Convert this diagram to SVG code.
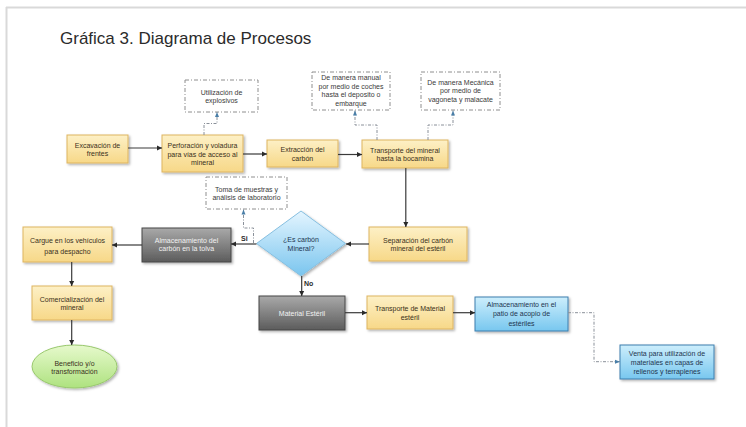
<svg xmlns="http://www.w3.org/2000/svg" width="746" height="427" viewBox="0 0 746 427">
<defs>
<linearGradient id="gY" x1="0" y1="0" x2="0" y2="1"><stop offset="0" stop-color="#fdf0c6"/><stop offset="1" stop-color="#f7d888"/></linearGradient>
<linearGradient id="gG" x1="0" y1="0" x2="0" y2="1"><stop offset="0" stop-color="#a9a9a9"/><stop offset="1" stop-color="#5c5c5c"/></linearGradient>
<linearGradient id="gB" x1="0" y1="0" x2="0" y2="1"><stop offset="0" stop-color="#cdeefc"/><stop offset="1" stop-color="#78c7ef"/></linearGradient>
<linearGradient id="gD" x1="0" y1="0" x2="0" y2="1"><stop offset="0" stop-color="#e4f5ff"/><stop offset="1" stop-color="#7ac5ee"/></linearGradient>
<linearGradient id="gE" x1="0" y1="0" x2="0" y2="1"><stop offset="0" stop-color="#e6f9cc"/><stop offset="1" stop-color="#aee27f"/></linearGradient>
<filter id="sh" x="-10%" y="-10%" width="130%" height="140%"><feDropShadow dx="1.5" dy="1.5" stdDeviation="1" flood-color="#000" flood-opacity="0.3"/></filter>
<marker id="ar" markerUnits="userSpaceOnUse" markerWidth="6" markerHeight="6" refX="5" refY="3" orient="auto"><path d="M0,0.5 L5,3 L0,5.5 Z" fill="#2a2a2a"/></marker>
<marker id="ad" markerUnits="userSpaceOnUse" markerWidth="6" markerHeight="6" refX="5" refY="3" orient="auto"><path d="M0,1 L5,3 L0,5 Z" fill="#4a7fa8"/></marker>
<style>
text{font-family:"Liberation Sans",Arial,sans-serif;font-size:7px;text-anchor:middle;dominant-baseline:central;}
.title{font-size:17px;text-anchor:start;dominant-baseline:auto;fill:#2b2b2b;}
.y{fill:url(#gY);stroke:#deb560;stroke-width:1;filter:url(#sh);}
.g{fill:url(#gG);stroke:#474747;stroke-width:1;filter:url(#sh);}
.b{fill:url(#gB);stroke:#3d7fae;stroke-width:1;filter:url(#sh);}
.d{fill:url(#gD);stroke:#86bfe0;stroke-width:1;filter:url(#sh);}
.e{fill:url(#gE);stroke:#98c86c;stroke-width:1;filter:url(#sh);}
.n{fill:#fff;stroke:#8e8e8e;stroke-width:1;stroke-dasharray:4 2 1 2;}
.ty{fill:#3a3020;}
.tg{fill:#f2f2f2;}
.tb{fill:#1d3550;}
.tn{fill:#3a3a3a;}
.lbl{font-weight:bold;fill:#2a2a2a;text-anchor:start;}
.c{fill:none;stroke:#3a3a3a;stroke-width:1.2;marker-end:url(#ar);}
.cd{fill:none;stroke:#8a9099;stroke-width:1;stroke-dasharray:3 1.5 1 1.5;marker-end:url(#ad);}
</style>
</defs>
<rect x="0" y="0" width="746" height="427" fill="#fff"/>
<path d="M6,7.5 H746 M6.5,7 V427" stroke="#d9d9d9" stroke-width="2" fill="none"/>
<text class="title" x="60" y="44">Gráfica 3. Diagrama de Procesos</text>

<g id="n-excavacion"><rect class="y" x="67" y="135" width="61" height="28"/>
<text class="ty"><tspan x="97.5" y="144.8">Excavación de</tspan><tspan x="97.5" y="153.3">frentes</tspan></text></g>
<g id="n-perforacion"><rect class="y" x="162" y="135" width="81" height="37"/>
<text class="ty"><tspan x="202.5" y="145">Perforación y voladura</tspan><tspan x="202.5" y="153.5">para vías de acceso  al</tspan><tspan x="202.5" y="162">mineral</tspan></text></g>
<g id="n-extraccion"><rect class="y" x="267" y="140" width="71" height="27"/>
<text class="ty"><tspan x="302.5" y="149.3">Extracción del</tspan><tspan x="302.5" y="157.8">carbón</tspan></text></g>
<g id="n-transporte"><rect class="y" x="362" y="140" width="86" height="28"/>
<text class="ty"><tspan x="405" y="149.8">Transporte del mineral</tspan><tspan x="405" y="158.3">hasta la bocamina</tspan></text></g>
<g id="n-explosivos"><rect class="n" x="185" y="80" width="73" height="32"/>
<text class="tn"><tspan x="221.5" y="91.8">Utilización de</tspan><tspan x="221.5" y="100.3">explosivos</tspan></text></g>
<g id="n-manual"><rect class="n" x="312" y="72" width="78" height="38"/>
<text class="tn"><tspan x="351" y="77">De manera manual</tspan><tspan x="351" y="85.7">por medio de coches</tspan><tspan x="351" y="94.3">hasta el deposito o</tspan><tspan x="351" y="102.8">embarque</tspan></text></g>
<g id="n-mecanica"><rect class="n" x="421" y="72" width="79" height="38"/>
<text class="tn"><tspan x="460.5" y="81.8">De manera Mecánica</tspan><tspan x="460.5" y="90.2">por medio de</tspan><tspan x="460.5" y="98.5">vagoneta y malacate</tspan></text></g>
<g id="n-muestras"><rect class="n" x="206" y="177" width="81" height="32"/>
<text class="tn"><tspan x="246.5" y="188.5">Toma de muestras y</tspan><tspan x="246.5" y="196.8">análisis de laboratorio</tspan></text></g>
<g id="n-decision"><path class="d" d="M301,211 L345.5,243.5 L301,276 L256.5,243.5 Z"/>
<text class="tb"><tspan x="301" y="239">¿Es carbón</tspan><tspan x="301" y="248">Mineral?</tspan></text></g>
<g id="n-separacion"><rect class="y" x="369" y="227" width="98" height="34"/>
<text class="ty"><tspan x="418" y="239.8">Separación del carbón</tspan><tspan x="418" y="248.3">mineral del estéril</tspan></text></g>
<g id="n-tolva"><rect class="g" x="142" y="228" width="89" height="34"/>
<text class="tg"><tspan x="186.5" y="239.5">Almacenamiento del</tspan><tspan x="186.5" y="248">carbón en la tolva</tspan></text></g>
<g id="n-cargue"><rect class="y" x="23" y="227" width="89" height="35"/>
<text class="ty"><tspan x="67.5" y="240">Cargue en los vehículos</tspan><tspan x="67.5" y="250.5">para despacho</tspan></text></g>
<g id="n-comercializacion"><rect class="y" x="32" y="286" width="80" height="34"/>
<text class="ty"><tspan x="72" y="298.6">Comercialización del</tspan><tspan x="72" y="307.2">mineral</tspan></text></g>
<g id="n-beneficio"><ellipse class="e" cx="74.5" cy="366.5" rx="42.5" ry="21.5"/>
<text class="ty"><tspan x="74.5" y="362.6">Beneficio y/o</tspan><tspan x="74.5" y="371.2">transformación</tspan></text></g>
<g id="n-esteril"><rect class="g" x="259" y="296" width="86" height="34"/>
<text class="tg"><tspan x="302" y="313">Material Estéril</tspan></text></g>
<g id="n-transporte-esteril"><rect class="y" x="367" y="296" width="86" height="33"/>
<text class="ty"><tspan x="410" y="308.3">Transporte de Material</tspan><tspan x="410" y="316.8">estéril</tspan></text></g>
<g id="n-patio"><rect class="b" x="475" y="297" width="93" height="34"/>
<text class="tb"><tspan x="521.5" y="303.6">Almacenamiento en el</tspan><tspan x="521.5" y="313.2">patio de acopio  de</tspan><tspan x="521.5" y="322.7">estériles</tspan></text></g>
<g id="n-venta"><rect class="b" x="620" y="345" width="94" height="34"/>
<text class="tb"><tspan x="667" y="352.8">Venta para  utilización  de</tspan><tspan x="667" y="361.8">materiales  en capas de</tspan><tspan x="667" y="370.8">rellenos  y terraplenes</tspan></text></g>

<g id="connectors">
<path class="c" d="M128,148 H162"/>
<path class="c" d="M243,154 H267"/>
<path class="c" d="M338,154.5 H362"/>
<path class="c" d="M405.8,168 V227"/>
<path class="c" d="M369,244 H346"/>
<path class="c" d="M256.5,244 H231"/>
<path class="c" d="M142,245 H112"/>
<path class="c" d="M71.7,262 V286"/>
<path class="c" d="M71.7,320 V345"/>
<path class="c" d="M301.7,276 V296"/>
<path class="c" d="M345,312.7 H367"/>
<path class="c" d="M453,312.7 H475"/>
<path class="cd" d="M204,135 V123.5 H217 V112"/>
<path class="cd" d="M253.5,243 V228 H243.5 V209.5"/>
<path class="cd" d="M377,140 V125 H355 V110.5"/>
<path class="cd" d="M428,140 V125 H453 V110.5"/>
<path class="cd" d="M568,312.7 H594 V361.7 H620"/>
<text class="lbl" x="241" y="238">Si</text>
<text class="lbl" x="304" y="283.5">No</text>
</g>
</svg>
